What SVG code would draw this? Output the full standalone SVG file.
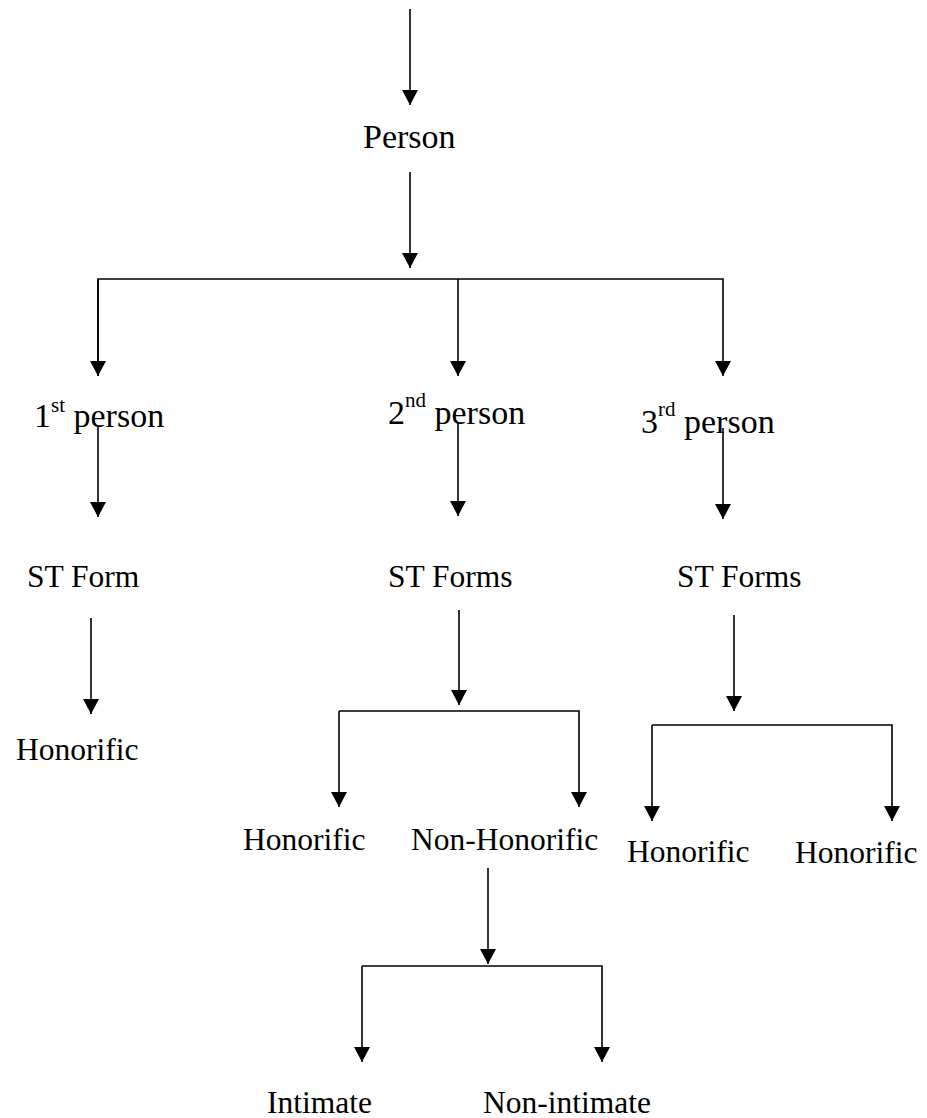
<svg xmlns="http://www.w3.org/2000/svg" width="927" height="1118" viewBox="0 0 927 1118">
<style>
.t{font-size:31.5px;fill:#000}
.p{font-size:34px}
.c line,.c polyline{stroke:#000;stroke-width:1.6;fill:none}
</style>
<defs>
<marker id="ah" markerUnits="userSpaceOnUse" markerWidth="16" markerHeight="16" refX="15" refY="8" orient="auto">
<path d="M0,0 L15,8 L0,16 z" fill="#000"/>
</marker>
</defs>
<rect width="927" height="1118" fill="#fff"/>
<g id="connectors" class="c">
<line x1="410" y1="9" x2="410" y2="105" marker-end="url(#ah)"/>
<line x1="410" y1="172" x2="410" y2="268" marker-end="url(#ah)"/>
<polyline points="98,376 98,279 723,279 723,376" marker-end="url(#ah)"/>
<line x1="98" y1="279" x2="98" y2="376" marker-end="url(#ah)"/>
<line x1="458" y1="279" x2="458" y2="376" marker-end="url(#ah)"/>
<line x1="98" y1="427" x2="98" y2="517" marker-end="url(#ah)"/>
<line x1="458" y1="422" x2="458" y2="516" marker-end="url(#ah)"/>
<line x1="723" y1="428" x2="723" y2="519" marker-end="url(#ah)"/>
<line x1="91" y1="618" x2="91" y2="714" marker-end="url(#ah)"/>
<line x1="459" y1="610" x2="459" y2="705" marker-end="url(#ah)"/>
<polyline points="339,711 579,711 579,807" marker-end="url(#ah)"/>
<line x1="339" y1="711" x2="339" y2="807" marker-end="url(#ah)"/>
<line x1="734" y1="615" x2="734" y2="711" marker-end="url(#ah)"/>
<polyline points="652,725 892,725 892,821" marker-end="url(#ah)"/>
<line x1="652" y1="725" x2="652" y2="821" marker-end="url(#ah)"/>
<line x1="488" y1="868" x2="488" y2="964" marker-end="url(#ah)"/>
<polyline points="362,966 602,966 602,1062" marker-end="url(#ah)"/>
<line x1="362" y1="966" x2="362" y2="1062" marker-end="url(#ah)"/>
</g>
<g font-family="'Liberation Serif', 'DejaVu Serif', 'Noto Serif', 'Times New Roman', serif">
<g id="person"><text class="t p" x="363" y="148">Person</text></g>
<g id="first"><text class="t p" x="34" y="427">1<tspan font-size="21" dy="-15">st</tspan><tspan dy="15"> person</tspan></text></g>
<g id="second"><text class="t p" x="388" y="424">2<tspan font-size="21" dy="-17">nd</tspan><tspan dy="17"> person</tspan></text></g>
<g id="third"><text class="t p" x="641" y="433">3<tspan font-size="21" dy="-17">rd</tspan><tspan dy="17"> person</tspan></text></g>
<g id="st1"><text class="t" x="27" y="587">ST Form</text></g>
<g id="st2"><text class="t" x="388" y="587">ST Forms</text></g>
<g id="st3"><text class="t" x="677" y="587">ST Forms</text></g>
<g id="hon1"><text class="t" x="16" y="760">Honorific</text></g>
<g id="hon2"><text class="t" x="243" y="850">Honorific</text></g>
<g id="nonhon"><text class="t" x="411" y="850">Non-Honorific</text></g>
<g id="hon3"><text class="t" x="627" y="862">Honorific</text></g>
<g id="hon4"><text class="t" x="795" y="863">Honorific</text></g>
<g id="intimate"><text class="t" x="267" y="1113">Intimate</text></g>
<g id="nonintimate"><text class="t" x="483" y="1113">Non-intimate</text></g>
</g>
</svg>
